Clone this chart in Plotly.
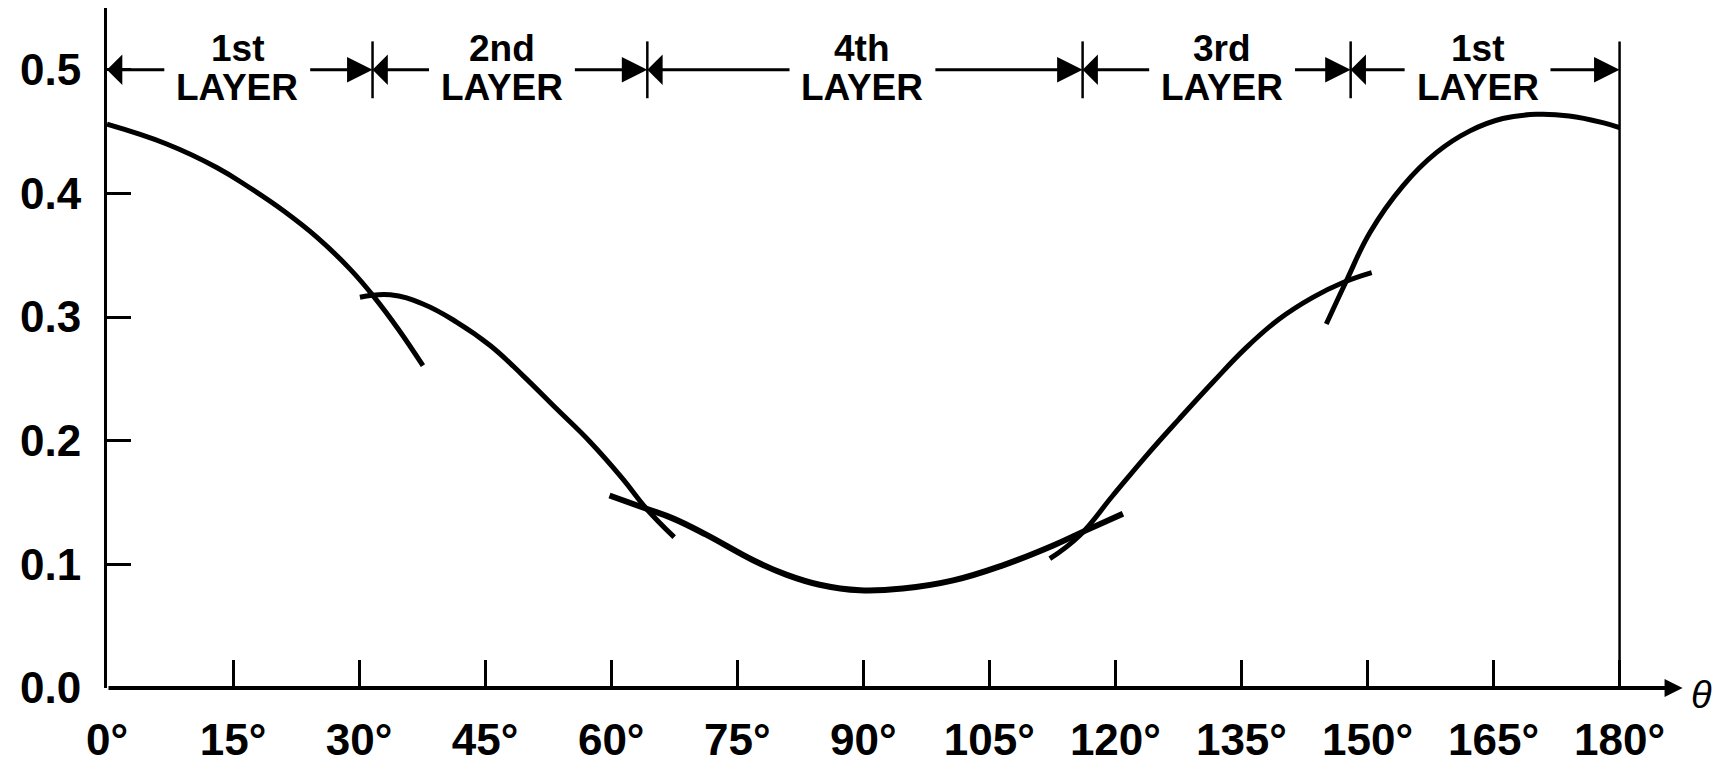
import plotly.graph_objects as go

# ---- data ----
theta_1st_a = [0, 7.1, 13.05, 16.9, 21.0, 25.0, 28.9, 31.7, 34.65, 37.6]
val_1st_a = [0.456, 0.440, 0.421, 0.405, 0.386, 0.3645, 0.339, 0.317, 0.2904, 0.2607]

theta_2nd = [30.1, 33.7, 37.6, 41.6, 45.6, 49.5, 53.5, 57.5, 61.4, 64.2, 67.5]
val_2nd = [0.316, 0.318, 0.3106, 0.296, 0.277, 0.2527, 0.2258, 0.199, 0.169, 0.145, 0.122]

theta_4th = [59.8, 64.2, 67.4, 71.3, 76.9, 80.9, 84.8, 89.6, 94.7, 100.7, 106.6, 112.6, 116.5, 120.9]
val_4th = [0.1557, 0.145, 0.137, 0.124, 0.1033, 0.0915, 0.0835, 0.079, 0.0804, 0.087, 0.0992,
           0.1153, 0.1275, 0.141]

theta_3rd = [112.2, 115.75, 119.7, 123.7, 127.6, 131.6, 135.6, 139.5, 143.5, 147.1, 150.5]
val_3rd = [0.1046, 0.1234, 0.1557, 0.188, 0.2177, 0.2473, 0.2755, 0.2985, 0.316, 0.328, 0.336]

theta_1st_b = [145.1, 147.5, 150.3, 154.2, 158.2, 162.2, 166.1, 170.1, 174.0, 178.0, 180.0]
val_1st_b = [0.2944, 0.3294, 0.3685, 0.406, 0.433, 0.4506, 0.4606, 0.464, 0.4627, 0.4573, 0.4533]

layer_bounds = [0, 31.6, 64.3, 116.1, 148.0, 180.0]
layer_names = ["1st", "2nd", "4th", "3rd", "1st"]
layer_label_x = [15.5, 47.0, 89.9, 132.7, 163.1]
label_half_gap = 8.5
arrow_level = 0.5

x_ticks = [0, 15, 30, 45, 60, 75, 90, 105, 120, 135, 150, 165, 180]
x_ticktext = [f"{t}°" for t in x_ticks]
y_ticks = [0.0, 0.1, 0.2, 0.3, 0.4, 0.5]
y_ticktext = ["0.0", "0.1", "0.2", "0.3", "0.4", "0.5"]

FONT = "Liberation Sans, Arial, Helvetica, sans-serif"

fig = go.Figure()
for xs, ys, w in [(theta_1st_a, val_1st_a, 5), (theta_2nd, val_2nd, 5),
                  (theta_4th, val_4th, 6), (theta_3rd, val_3rd, 5),
                  (theta_1st_b, val_1st_b, 5)]:
    fig.add_trace(go.Scatter(x=xs, y=ys, mode="lines",
                             line=dict(color="black", width=w, shape="spline", smoothing=1.2),
                             showlegend=False, hoverinfo="skip"))

shapes = []
for b in layer_bounds[1:-1]:
    shapes.append(dict(type="line", xref="x", yref="y", x0=b, x1=b, y0=0.477, y1=0.523,
                       line=dict(color="black", width=2.5)))
shapes.append(dict(type="line", xref="x", yref="y", x0=layer_bounds[-1], x1=layer_bounds[-1],
                   y0=0, y1=0.523, line=dict(color="black", width=2.5)))

annotations = []
# x axis drawn with an arrow at its end
annotations.append(dict(x=187.5, y=0, ax=0, ay=0, xref="x", yref="y", axref="x", ayref="y",
                        text="", showarrow=True, arrowhead=2, arrowsize=0.9, arrowwidth=4,
                        arrowcolor="black"))
annotations.append(dict(x=189.7, y=-0.011, xref="x", yref="paper", yanchor="middle",
                        text="<i>θ</i>", showarrow=False,
                        font=dict(family=FONT, size=38, color="black")))

for name, cx, left, right in zip(layer_names, layer_label_x, layer_bounds[:-1], layer_bounds[1:]):
    annotations.append(dict(x=cx, y=0.517, xref="x", yref="y", text=f"<b>{name}</b>",
                            showarrow=False, font=dict(family=FONT, size=37, color="black")))
    annotations.append(dict(x=cx, y=0.486, xref="x", yref="y", text="<b>LAYER</b>",
                            showarrow=False, font=dict(family=FONT, size=37, color="black")))
    annotations.append(dict(x=left, y=arrow_level, ax=cx - label_half_gap, ay=arrow_level,
                            xref="x", yref="y", axref="x", ayref="y", text="",
                            showarrow=True, arrowhead=1, arrowsize=1.7, arrowwidth=3,
                            arrowcolor="black"))
    annotations.append(dict(x=right, y=arrow_level, ax=cx + label_half_gap, ay=arrow_level,
                            xref="x", yref="y", axref="x", ayref="y", text="",
                            showarrow=True, arrowhead=2, arrowsize=1.7, arrowwidth=3,
                            arrowcolor="black"))

fig.update_layout(
    width=1727, height=772,
    margin=dict(l=107, r=15, t=8, b=82),
    paper_bgcolor="white", plot_bgcolor="white",
    shapes=shapes, annotations=annotations,
    font=dict(family=FONT, color="black"),
    xaxis=dict(range=[0, 191], tickvals=x_ticks, ticktext=x_ticktext,
               ticks="inside", ticklen=28, tickwidth=3, tickcolor="black",
               showline=False, showgrid=False, zeroline=False,
               tickfont=dict(family=FONT, size=44, color="black", weight="bold"),
               ticklabelstandoff=22),
    yaxis=dict(range=[0, 0.55], tickvals=y_ticks, ticktext=y_ticktext,
               ticks="inside", ticklen=24, tickwidth=3, tickcolor="black",
               showline=True, linewidth=3, linecolor="black",
               showgrid=False, zeroline=False,
               tickfont=dict(family=FONT, size=44, color="black", weight="bold"),
               ticklabelstandoff=14),
)

fig.write_html("out.html")
